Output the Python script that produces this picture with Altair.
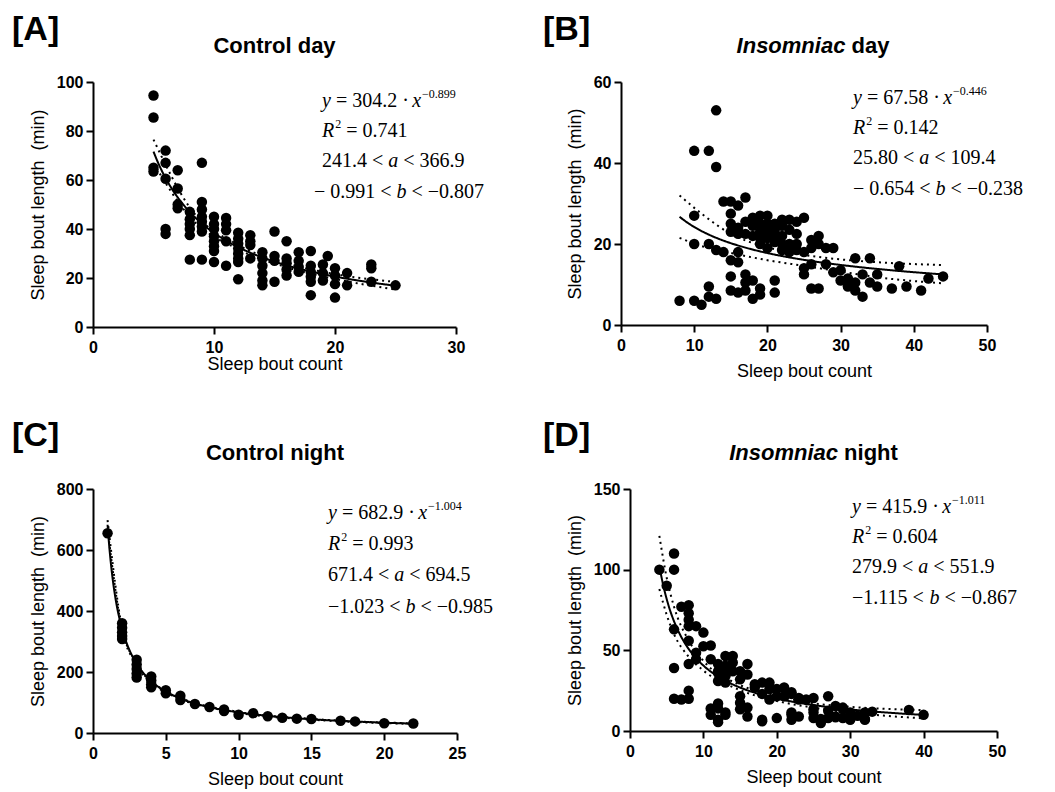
import altair as alt
import pandas as pd

# ------------------------------------------------------------------ data
# (sleep bout count, sleep bout length in min)
A_points = [(5, 94.5), (5, 85.5), (5, 65), (5, 63.5), (6, 72), (6, 67), (7, 64), (6, 60.5), (7, 56.5),
            (7, 50), (7, 48.5), (6, 40), (6, 38), (8, 47), (8, 44), (8, 42), (8, 40), (8, 37.5), (8, 27.5),
            (9, 67), (9, 51), (9, 48), (9, 45), (9, 43), (9, 41), (9, 39), (9, 27.5),
            (10, 45), (10, 42), (10, 40), (10, 37), (10, 35), (10, 33), (10, 31), (10, 26.5),
            (11, 44.5), (11, 42), (11, 39.5), (11, 35), (11, 25),
            (12, 38.5), (12, 36), (12, 34), (12, 32), (12, 30), (12, 28), (12, 26.5), (12, 19.5),
            (13, 37.5), (13, 35), (13, 33.5), (13, 28),
            (14, 30.5), (14, 28), (14, 25), (14, 22), (14, 19), (14, 17),
            (15, 39), (15, 29), (15, 27), (15, 18.5),
            (16, 35), (16, 28), (16, 26), (16, 23.5), (16, 21),
            (17, 30.5), (17, 27), (17, 24.5), (17, 22.5),
            (18, 31), (18, 25), (18, 22.5), (18, 20.5), (18, 18.5), (18, 13),
            (19, 25.5), (19, 22), (19, 19), (19.4, 29),
            (20, 24), (20, 21), (20, 17.5), (20, 12), (21, 22), (21, 17),
            (23, 25.5), (23, 24), (23, 18.5), (25, 17)]

B_points = [(13, 53), (10, 43), (12, 43), (13, 39), (10, 27), (10, 20), (12, 20), (13, 18.5), (14, 18),
            (8, 6), (10, 6), (11, 5), (12, 9.5), (12, 7), (13, 6.5),
            (14, 30.5), (15, 30.5), (16, 29.5), (17, 31.5),
            (15, 27.5), (15, 25), (16, 24), (17, 25.5), (15, 23), (16, 22.5), (17, 22.5), (18, 24.5),
            (19, 27), (20, 27), (16, 18), (16, 15.5), (15, 16), (15, 12), (17, 12.5), (17, 10.5), (18, 11),
            (15, 8.5), (16, 8), (17, 8.5), (18, 6.5), (19, 7.5), (19, 9), (21, 11), (21, 8),
            (19, 20), (20, 19), (19, 23), (20, 25), (21, 25), (22, 24.5), (23, 23.5), (24, 22.5),
            (24, 25.5), (25, 26.5), (21, 22.5), (22, 20), (23, 18), (23, 20), (25, 18), (20, 21.5),
            (25, 14), (26, 15), (25, 12.5), (26, 9), (27, 9), (27, 22), (27, 20), (28, 19), (29, 19),
            (28, 15), (29, 13), (30, 13.5), (30, 11), (31, 11.5), (31, 9.5), (32, 8.5), (33, 7),
            (32, 10.5), (33, 12.5), (34, 10.5), (35, 12.5), (35, 9.5), (37, 9),
            (32, 16.5), (34, 16.5), (38, 14.5), (39, 9.5), (41, 8.5), (42, 11.5), (44, 12),
            (18, 26.5), (19, 25), (21, 20.5), (22, 22), (24, 20), (26, 21), (20, 23), (22, 26),
            (18, 22), (19, 21.5), (20, 24), (21, 23.5), (23, 26), (22, 18.5), (24, 18.5), (26, 19)]

C_points = [(1, 655), (2, 360), (2, 345), (2, 330), (2, 318), (2, 308), (3, 240), (3, 225), (3, 210),
            (3, 195), (3, 182), (4, 185), (4, 172), (4, 160), (4, 150), (5, 140), (5, 130), (6, 122),
            (6, 108), (7, 95), (8, 85), (9, 77), (9, 72), (10, 60), (11, 65), (12, 55), (13, 50),
            (14, 47), (15, 46), (17, 40), (18, 38), (20, 32), (22, 31)]

D_points = [(4, 100), (5, 90), (6, 110), (6, 100), (6, 63), (6, 39), (6, 20), (7, 19.5), (8, 20), (8, 25),
            (7, 77), (8, 78), (8, 73), (8, 69), (8, 65), (9, 65), (10, 61), (8, 56), (8, 41.5), (9, 44.5),
            (9, 48.5), (11, 53), (10, 52.5), (11, 44.5), (12, 41.5), (12, 37), (13, 46.5), (14, 46.5),
            (13, 40.5), (13, 34), (14, 37), (15, 37), (16, 41.5), (16, 35), (15, 32), (12, 31), (13, 30),
            (14, 42.5), (12, 36), (13, 38.5), (17, 29), (17, 27), (19, 30), (19, 26), (20, 26), (21, 27),
            (20, 21.5), (21, 21.5), (22, 24), (23, 20.5), (23, 19.5), (24, 19.5), (25, 20.5), (27, 21.5),
            (18, 30), (18, 23), (19, 19.5), (22, 23), (25, 13.5), (25, 11.5), (27, 12.5), (28, 15.5),
            (29, 14.5), (28, 8.5), (29, 13.5), (30, 11.5), (30, 9.5), (31, 9.5), (32, 11.5), (32, 7.5),
            (33, 12), (38, 13), (40, 10), (11, 10), (12, 14), (12, 7), (13, 10), (11, 14), (12, 17),
            (13, 11.5), (12, 5.5), (15, 21.5), (15, 13.5), (15, 17.5), (16, 14.5), (16, 9), (18, 7),
            (18, 6), (20, 8), (22, 11.5), (22, 10), (22, 7), (23, 9), (25, 8), (26, 5), (26, 7.5),
            (27, 8), (28, 9), (29, 8), (30, 7), (32, 7)]

# fitted power law y = a * x^b  (a, b) and the x range over which it is drawn
A_fit, A_fit_range = [304.2, -0.899], [5, 25]
B_fit, B_fit_range = [67.58, -0.446], [8, 44]
C_fit, C_fit_range = [682.9, -1.004], [1, 22]
D_fit, D_fit_range = [415.9, -1.011], [4, 40]

# 95% confidence bands
A_band_x, A_upper, A_lower = [5, 8, 12, 16, 20, 25], [76.5, 48.8, 33.5, 26.0, 21.6, 18.4], [66.8, 45.0, 31.7, 24.4, 19.6, 15.3]
B_band_x = [8, 11, 15, 20, 25, 30, 35, 44]
B_upper = [32, 27.5, 22.5, 19.2, 17.3, 16.2, 15.5, 14.8]
B_lower = [21.5, 19.5, 17.8, 16, 14.6, 13.2, 11.8, 10.3]
C_band_x, C_upper, C_lower = [1, 2, 3, 5, 10, 15, 22], [698, 344, 229, 138, 69, 46.5, 31.6], [668, 337, 224, 133.5, 66.5, 44, 29.8]
D_band_x = [4, 5, 6, 8, 10, 15, 20, 25, 30, 40]
D_upper = [121, 95, 77, 56, 43.5, 28.5, 21.8, 17.2, 15, 13]
D_lower = [88, 72, 60, 46, 37.5, 25.3, 18.6, 14.5, 11.5, 7.8]

# annotation numbers: a, b, R^2, a-low, a-high, b-low, b-high
A_stats = ["304.2", "\u22120.899", "0.741", "241.4", "366.9", "\u2212 0.991", "\u22120.807"]
B_stats = ["67.58", "\u22120.446", "0.142", "25.80", "109.4", "\u2212 0.654", "\u22120.238"]
C_stats = ["682.9", "\u22121.004", "0.993", "671.4", "694.5", "\u22121.023", "\u22120.985"]
D_stats = ["415.9", "\u22121.011", "0.604", "279.9", "551.9", "\u22121.115", "\u22120.867"]

panel_letters = ["[A]", "[B]", "[C]", "[D]"]
panel_titles = [[("Control day", "b")], [("Insomniac", "bi"), (" day", "b")],
                [("Control night", "b")], [("Insomniac", "bi"), (" night", "b")]]
x_title = "Sleep bout count"
y_title = "Sleep bout length \u00a0(min)"

# ------------------------------------------------------------------ helpers
SERIF = "Liberation Serif"
SANS = "Liberation Sans"
TIMES_W = {".": .25, " ": .25, "=": .564, "<": .564, "\u2212": .564, "\u00b7": .25,
           "y": .444, "x": .444, "R": .611, "a": .5, "b": .5}
ARIALB_W = {"C": .722, "o": .611, "n": .611, "t": .333, "r": .389, "l": .278, " ": .278, "d": .611,
            "a": .556, "y": .556, "I": .278, "s": .556, "m": .889, "i": .278, "c": .556, "g": .611, "h": .611}


def tw(text, size, table):
    return sum(table.get(c, .5) for c in text) * size


def txt(x, y, text, font, size, weight="normal", style="normal", baseline="alphabetic", align="left"):
    return alt.Chart(pd.DataFrame({"t": [text]})).mark_text(
        text=text, font=font, fontSize=size, fontWeight=weight, fontStyle=style,
        baseline=baseline, align=align, color="black"
    ).encode(x=alt.value(x), y=alt.value(y))


def equation_layers(stats, x0s, ys, size=20):
    a, b, r2, alo, ahi, blo, bhi = stats
    lines = [
        [("y", "i"), (" = " + a + " \u00b7 ", "r"), ("x", "i"), (b, "s")],
        [("R", "i"), ("2", "s"), (" = " + r2, "r")],
        [(alo + " < ", "r"), ("a", "i"), (" < " + ahi, "r")],
        [(blo + " < ", "r"), ("b", "i"), (" < " + bhi, "r")],
    ]
    out = []
    small = round(size * 0.6)
    for line, x0, yc in zip(lines, x0s, ys):
        x = x0
        base = yc + 0.33 * size
        for text, kind in line:
            lead = len(text) - len(text.lstrip(" "))
            body = text.strip(" ")
            if kind == "s":
                x += 1
                out.append(txt(x, base - 0.45 * size, body, SERIF, small))
                x += tw(body, small, TIMES_W)
            else:
                x += lead * .25 * size
                out.append(txt(x, base, body, SERIF, size, style="italic" if kind == "i" else "normal"))
                x += tw(text.lstrip(" "), size, TIMES_W)
    return out


def title_layers(parts, cx, y, size=22):
    total = sum(tw(t, size, ARIALB_W) for t, _ in parts)
    x = cx - total / 2
    out = []
    for t, kind in parts:
        lead = len(t) - len(t.lstrip(" "))
        out.append(txt(x + lead * .278 * size, y, t.strip(" "), SANS, size, weight="bold",
                       style="italic" if kind == "bi" else "normal", baseline="middle"))
        x += tw(t, size, ARIALB_W)
    return out


def panel(points, fit, fit_range, band_x, upper, lower, xdom, xticks, ydom, yticks, w, h,
          stats, eq_x0s, eq_ys, letter, letter_xy, title, title_dx, x_title_pad=9):
    df = pd.DataFrame(points, columns=["x", "y"])
    X = alt.X("x:Q", title=x_title, scale=alt.Scale(domain=xdom, nice=False, zero=True),
              axis=alt.Axis(values=xticks, labelPadding=5, titlePadding=x_title_pad, format="d",
                            labelFlush=False))
    Y = alt.Y("y:Q", title=y_title, scale=alt.Scale(domain=ydom, nice=False, zero=True),
              axis=alt.Axis(values=yticks, labelPadding=3, titlePadding=9, format="d", labelFlush=False))

    pts = alt.Chart(df).mark_circle(size=110, color="black", opacity=1).encode(x=X, y=Y)

    step = (fit_range[1] - fit_range[0]) / 300
    curve = alt.Chart(alt.sequence(fit_range[0], fit_range[1] + step / 2, step, as_="x")).transform_calculate(
        y=f"{fit[0]} * pow(datum.x, {fit[1]})"
    ).mark_line(color="black", strokeWidth=2).encode(x=X, y=Y)

    bdf = pd.DataFrame({"x": band_x * 2, "y": upper + lower,
                        "side": ["upper"] * len(band_x) + ["lower"] * len(band_x)})
    band = alt.Chart(bdf).mark_line(color="black", strokeWidth=2, strokeDash=[2, 4],
                                    interpolate="monotone").encode(x=X, y=Y, detail="side:N")

    layers = [pts, band, curve]
    layers += equation_layers(stats, eq_x0s, eq_ys)
    layers += title_layers(title, w / 2 + title_dx, -36)
    layers.append(txt(letter_xy[0], letter_xy[1], letter, SANS, 34, weight="bold", baseline="middle"))
    return alt.layer(*layers).properties(width=w, height=h)


pA = panel(A_points, A_fit, A_fit_range, A_band_x, A_upper, A_lower, [0, 30], [0, 10, 20, 30],
           [0, 100], [0, 20, 40, 60, 80, 100], 363, 245, A_stats,
           [229, 229, 229, 221], [18, 48, 78, 109], panel_letters[0], (-81, -52), panel_titles[0], 0,
           x_title_pad=0)
pB = panel(B_points, B_fit, B_fit_range, B_band_x, B_upper, B_lower, [0, 50], [0, 10, 20, 30, 40, 50],
           [0, 60], [0, 20, 40, 60], 366, 243, B_stats,
           [232, 232, 232, 232], [15, 45, 75, 106], panel_letters[1], (-78, -52), panel_titles[1], 9)
pC = panel(C_points, C_fit, C_fit_range, C_band_x, C_upper, C_lower, [0, 25], [0, 5, 10, 15, 20, 25],
           [0, 800], [0, 200, 400, 600, 800], 364, 244, C_stats,
           [235, 235, 235, 235], [23, 54, 85, 117], panel_letters[2], (-81, -53), panel_titles[2], 0)
pD = panel(D_points, D_fit, D_fit_range, D_band_x, D_upper, D_lower, [0, 50], [0, 10, 20, 30, 40, 50],
           [0, 150], [0, 50, 100, 150], 367, 242, D_stats,
           [222, 222, 222, 222], [17, 47, 77, 108], panel_letters[3], (-87, -53), panel_titles[3], 0)

row1 = alt.hconcat(pA, pB, spacing=165, bounds="flush")
row2 = alt.hconcat(pC, pD, spacing=173, bounds="flush")

chart = alt.vconcat(row1, row2, spacing=39).properties(
    padding={"left": 4, "top": 5, "right": 5, "bottom": 5}
).configure_view(stroke=None).configure_axis(
    grid=False, domainColor="black", domainWidth=2, tickColor="black", tickWidth=2, tickSize=7,
    labelFont=SANS, labelFontSize=16, labelFontWeight="bold", labelColor="black",
    titleFont=SANS, titleFontSize=18, titleFontWeight="normal", titleColor="black"
)

chart.save("out.html", embed_options={"renderer": "svg", "actions": False})
